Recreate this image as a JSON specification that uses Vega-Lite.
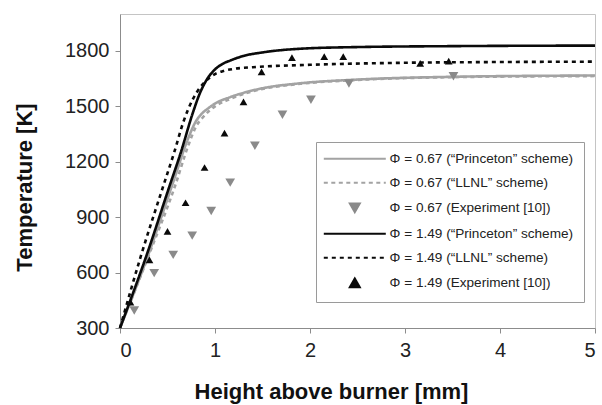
{
  "$schema": "https://vega.github.io/schema/vega-lite/v6.json",
  "width": 475,
  "height": 314,
  "autosize": {"type": "none"},
  "padding": {"left": 120, "top": 14, "right": 7, "bottom": 77},
  "config": {
    "font": "Liberation Sans",
    "view": {"stroke": "#c4c4c4", "strokeWidth": 1},
    "axis": {"grid": false, "domainColor": "#8c8c8c", "tickColor": "#8c8c8c", "labelColor": "#222", "titleColor": "#111", "labelFontSize": 20, "titleFontSize": 22, "titleFontWeight": "bold", "tickSize": 5},
    "legend": {"orient": "none", "legendX": 196, "legendY": 128, "labelFontSize": 13.6, "labelLimit": 400, "labelColor": "#222", "padding": 10, "rowPadding": 9, "strokeColor": "#9a9a9a", "fillColor": "white", "symbolStrokeWidth": 2, "symbolOffset": 22, "labelOffset": 28}
  },
  "datasets": {
    "curves": [
      {"x": 0, "T": 300, "series": "Φ = 0.67 (“Princeton” scheme)"},
      {"x": 0.3, "T": 700, "series": "Φ = 0.67 (“Princeton” scheme)"},
      {"x": 0.56, "T": 1090, "series": "Φ = 0.67 (“Princeton” scheme)"},
      {"x": 0.72, "T": 1330, "series": "Φ = 0.67 (“Princeton” scheme)"},
      {"x": 0.8, "T": 1420, "series": "Φ = 0.67 (“Princeton” scheme)"},
      {"x": 0.86, "T": 1460, "series": "Φ = 0.67 (“Princeton” scheme)"},
      {"x": 0.93, "T": 1490, "series": "Φ = 0.67 (“Princeton” scheme)"},
      {"x": 1.0, "T": 1515, "series": "Φ = 0.67 (“Princeton” scheme)"},
      {"x": 1.16, "T": 1550, "series": "Φ = 0.67 (“Princeton” scheme)"},
      {"x": 1.35, "T": 1580, "series": "Φ = 0.67 (“Princeton” scheme)"},
      {"x": 1.5, "T": 1598, "series": "Φ = 0.67 (“Princeton” scheme)"},
      {"x": 1.9, "T": 1625, "series": "Φ = 0.67 (“Princeton” scheme)"},
      {"x": 2.5, "T": 1645, "series": "Φ = 0.67 (“Princeton” scheme)"},
      {"x": 3.5, "T": 1660, "series": "Φ = 0.67 (“Princeton” scheme)"},
      {"x": 5, "T": 1667, "series": "Φ = 0.67 (“Princeton” scheme)"},
      {"x": 0, "T": 300, "series": "Φ = 0.67 (“LLNL” scheme)"},
      {"x": 0.3, "T": 690, "series": "Φ = 0.67 (“LLNL” scheme)"},
      {"x": 0.58, "T": 1070, "series": "Φ = 0.67 (“LLNL” scheme)"},
      {"x": 0.72, "T": 1290, "series": "Φ = 0.67 (“LLNL” scheme)"},
      {"x": 0.8, "T": 1390, "series": "Φ = 0.67 (“LLNL” scheme)"},
      {"x": 0.88, "T": 1445, "series": "Φ = 0.67 (“LLNL” scheme)"},
      {"x": 1.0, "T": 1500, "series": "Φ = 0.67 (“LLNL” scheme)"},
      {"x": 1.16, "T": 1540, "series": "Φ = 0.67 (“LLNL” scheme)"},
      {"x": 1.35, "T": 1575, "series": "Φ = 0.67 (“LLNL” scheme)"},
      {"x": 1.5, "T": 1594, "series": "Φ = 0.67 (“LLNL” scheme)"},
      {"x": 1.9, "T": 1622, "series": "Φ = 0.67 (“LLNL” scheme)"},
      {"x": 2.5, "T": 1643, "series": "Φ = 0.67 (“LLNL” scheme)"},
      {"x": 3.5, "T": 1658, "series": "Φ = 0.67 (“LLNL” scheme)"},
      {"x": 5, "T": 1664, "series": "Φ = 0.67 (“LLNL” scheme)"},
      {"x": 0, "T": 300, "series": "Φ = 1.49 (“Princeton” scheme)"},
      {"x": 0.3, "T": 724, "series": "Φ = 1.49 (“Princeton” scheme)"},
      {"x": 0.51, "T": 1051, "series": "Φ = 1.49 (“Princeton” scheme)"},
      {"x": 0.64, "T": 1250, "series": "Φ = 1.49 (“Princeton” scheme)"},
      {"x": 0.77, "T": 1470, "series": "Φ = 1.49 (“Princeton” scheme)"},
      {"x": 0.84, "T": 1570, "series": "Φ = 1.49 (“Princeton” scheme)"},
      {"x": 0.91, "T": 1642, "series": "Φ = 1.49 (“Princeton” scheme)"},
      {"x": 1.0, "T": 1700, "series": "Φ = 1.49 (“Princeton” scheme)"},
      {"x": 1.08, "T": 1730, "series": "Φ = 1.49 (“Princeton” scheme)"},
      {"x": 1.16, "T": 1748, "series": "Φ = 1.49 (“Princeton” scheme)"},
      {"x": 1.3, "T": 1773, "series": "Φ = 1.49 (“Princeton” scheme)"},
      {"x": 1.5, "T": 1792, "series": "Φ = 1.49 (“Princeton” scheme)"},
      {"x": 1.9, "T": 1812, "series": "Φ = 1.49 (“Princeton” scheme)"},
      {"x": 2.5, "T": 1821, "series": "Φ = 1.49 (“Princeton” scheme)"},
      {"x": 3.5, "T": 1826, "series": "Φ = 1.49 (“Princeton” scheme)"},
      {"x": 5, "T": 1829, "series": "Φ = 1.49 (“Princeton” scheme)"},
      {"x": 0, "T": 300, "series": "Φ = 1.49 (“LLNL” scheme)"},
      {"x": 0.22, "T": 690, "series": "Φ = 1.49 (“LLNL” scheme)"},
      {"x": 0.45, "T": 1060, "series": "Φ = 1.49 (“LLNL” scheme)"},
      {"x": 0.57, "T": 1250, "series": "Φ = 1.49 (“LLNL” scheme)"},
      {"x": 0.67, "T": 1420, "series": "Φ = 1.49 (“LLNL” scheme)"},
      {"x": 0.77, "T": 1542, "series": "Φ = 1.49 (“LLNL” scheme)"},
      {"x": 0.84, "T": 1600, "series": "Φ = 1.49 (“LLNL” scheme)"},
      {"x": 0.91, "T": 1640, "series": "Φ = 1.49 (“LLNL” scheme)"},
      {"x": 1.0, "T": 1675, "series": "Φ = 1.49 (“LLNL” scheme)"},
      {"x": 1.09, "T": 1692, "series": "Φ = 1.49 (“LLNL” scheme)"},
      {"x": 1.2, "T": 1703, "series": "Φ = 1.49 (“LLNL” scheme)"},
      {"x": 1.4, "T": 1712, "series": "Φ = 1.49 (“LLNL” scheme)"},
      {"x": 2, "T": 1725, "series": "Φ = 1.49 (“LLNL” scheme)"},
      {"x": 3, "T": 1736, "series": "Φ = 1.49 (“LLNL” scheme)"},
      {"x": 4, "T": 1740, "series": "Φ = 1.49 (“LLNL” scheme)"},
      {"x": 5, "T": 1742, "series": "Φ = 1.49 (“LLNL” scheme)"}
    ],
    "exp067": [
      {"x": 0.15, "T": 395, "series": "Φ = 0.67 (Experiment [10])"},
      {"x": 0.36, "T": 597, "series": "Φ = 0.67 (Experiment [10])"},
      {"x": 0.56, "T": 696, "series": "Φ = 0.67 (Experiment [10])"},
      {"x": 0.76, "T": 800, "series": "Φ = 0.67 (Experiment [10])"},
      {"x": 0.96, "T": 933, "series": "Φ = 0.67 (Experiment [10])"},
      {"x": 1.16, "T": 1087, "series": "Φ = 0.67 (Experiment [10])"},
      {"x": 1.42, "T": 1287, "series": "Φ = 0.67 (Experiment [10])"},
      {"x": 1.71, "T": 1455, "series": "Φ = 0.67 (Experiment [10])"},
      {"x": 2.01, "T": 1536, "series": "Φ = 0.67 (Experiment [10])"},
      {"x": 2.41, "T": 1624, "series": "Φ = 0.67 (Experiment [10])"},
      {"x": 3.51, "T": 1663, "series": "Φ = 0.67 (Experiment [10])"}
    ],
    "exp149": [
      {"x": 0.11, "T": 440, "series": "Φ = 1.49 (Experiment [10])"},
      {"x": 0.31, "T": 669, "series": "Φ = 1.49 (Experiment [10])"},
      {"x": 0.5, "T": 823, "series": "Φ = 1.49 (Experiment [10])"},
      {"x": 0.69, "T": 978, "series": "Φ = 1.49 (Experiment [10])"},
      {"x": 0.89, "T": 1169, "series": "Φ = 1.49 (Experiment [10])"},
      {"x": 1.1, "T": 1355, "series": "Φ = 1.49 (Experiment [10])"},
      {"x": 1.3, "T": 1524, "series": "Φ = 1.49 (Experiment [10])"},
      {"x": 1.49, "T": 1687, "series": "Φ = 1.49 (Experiment [10])"},
      {"x": 1.81, "T": 1764, "series": "Φ = 1.49 (Experiment [10])"},
      {"x": 2.15, "T": 1769, "series": "Φ = 1.49 (Experiment [10])"},
      {"x": 2.35, "T": 1769, "series": "Φ = 1.49 (Experiment [10])"},
      {"x": 3.16, "T": 1733, "series": "Φ = 1.49 (Experiment [10])"},
      {"x": 3.46, "T": 1745, "series": "Φ = 1.49 (Experiment [10])"}
    ]
  },
  "encoding": {
    "x": {"field": "x", "type": "quantitative", "scale": {"domain": [0, 5], "nice": false},
      "axis": {"title": "Height above burner [mm]", "values": [0, 1, 2, 3, 4, 5], "format": "d", "labelPadding": 7, "titleX": 211, "titleY": 70, "titleBaseline": "alphabetic"}},
    "y": {"field": "T", "type": "quantitative", "scale": {"domain": [300, 2000], "nice": false, "zero": false},
      "axis": {"title": "Temperature [K]", "values": [300, 600, 900, 1200, 1500, 1800], "format": "d", "labelPadding": 6, "titleX": -96, "titleY": 173, "titleBaseline": "middle"}},
    "color": {"field": "series", "type": "nominal",
      "scale": {"domain": ["Φ = 0.67 (“Princeton” scheme)", "Φ = 0.67 (“LLNL” scheme)", "Φ = 0.67 (Experiment [10])", "Φ = 1.49 (“Princeton” scheme)", "Φ = 1.49 (“LLNL” scheme)", "Φ = 1.49 (Experiment [10])"],
        "range": ["#a3a3a3", "#a3a3a3", "#8a8a8a", "#0a0a0a", "#0a0a0a", "#0a0a0a"]},
      "legend": {"title": null}
    }
  },
  "layer": [
    {
      "data": {"name": "curves"},
      "mark": {"type": "line", "interpolate": "monotone", "strokeWidth": 2.6},
      "encoding": {
        "strokeDash": {"field": "series", "type": "nominal", "legend": {"title": null},
          "scale": {"domain": ["Φ = 0.67 (“Princeton” scheme)", "Φ = 0.67 (“LLNL” scheme)", "Φ = 0.67 (Experiment [10])", "Φ = 1.49 (“Princeton” scheme)", "Φ = 1.49 (“LLNL” scheme)", "Φ = 1.49 (Experiment [10])"],
            "range": [[1, 0], [4, 3.5], [1, 0], [1, 0], [4, 4], [1, 0]]}}
      }
    },
    {
      "data": {"name": "exp067"},
      "mark": {"type": "point", "filled": true, "opacity": 1, "size": 95},
      "encoding": {
        "shape": {"field": "series", "type": "nominal", "legend": {"title": null},
          "scale": {"domain": ["Φ = 0.67 (“Princeton” scheme)", "Φ = 0.67 (“LLNL” scheme)", "Φ = 0.67 (Experiment [10])", "Φ = 1.49 (“Princeton” scheme)", "Φ = 1.49 (“LLNL” scheme)", "Φ = 1.49 (Experiment [10])"],
            "range": ["M-6.2,0H6.2", "M-6.2,0H6.2", "triangle-down", "M-6.2,0H6.2", "M-6.2,0H6.2", "triangle-up"]}}
      }
    },
    {
      "data": {"name": "exp149"},
      "mark": {"type": "point", "filled": true, "opacity": 1, "size": 60},
      "encoding": {
        "shape": {"field": "series", "type": "nominal", "legend": {"title": null},
          "scale": {"domain": ["Φ = 0.67 (“Princeton” scheme)", "Φ = 0.67 (“LLNL” scheme)", "Φ = 0.67 (Experiment [10])", "Φ = 1.49 (“Princeton” scheme)", "Φ = 1.49 (“LLNL” scheme)", "Φ = 1.49 (Experiment [10])"],
            "range": ["M-6.2,0H6.2", "M-6.2,0H6.2", "triangle-down", "M-6.2,0H6.2", "M-6.2,0H6.2", "triangle-up"]}}
      }
    }
  ]
}
